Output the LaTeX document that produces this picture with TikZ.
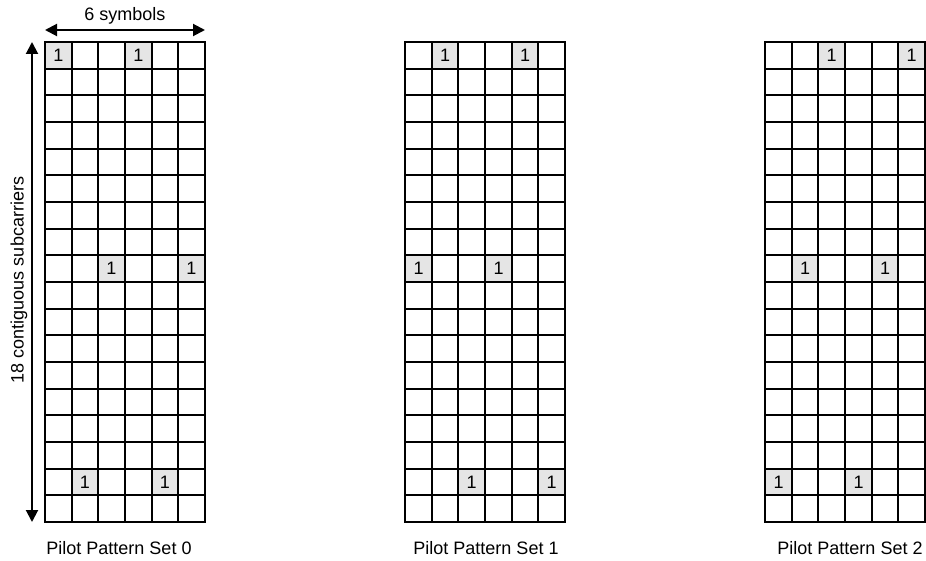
\documentclass[tikz,border=0pt]{standalone}
\usepackage{fontspec}
\setmainfont{Liberation Sans}
\usetikzlibrary{arrows.meta}
\begin{document}
\begin{tikzpicture}[x=1pt,y=-1pt,
  cell/.style={draw, line width=2pt, inner sep=0pt, outer sep=0pt, anchor=north west,
    font=\fontsize{18}{20}\selectfont},
  pilot/.style={cell, fill=gray!20},
  lbl/.style={font=\fontsize{18}{20}\selectfont, inner sep=0pt},
  dimarrow/.style={line width=2pt, {Triangle[length=12pt,width=12pt]}-{Triangle[length=12pt,width=12pt]}}]
\useasboundingbox (0,0) rectangle (926,561);
\foreach \g/\x/\lx in {0/45/119,1/405/486,2/765/850}{
  \foreach \r in {0,...,17}{
    \foreach \c in {0,...,5}{
      \pgfmathtruncatemacro\ispilot{(mod(\r,8)==0) && (mod(\c-\g-\r/4+30,3)==0)}
      \pgfmathtruncatemacro\cxa{round(\x+\c*26.67)}
      \pgfmathtruncatemacro\cxb{round(\x+(\c+1)*26.67)}
      \pgfmathtruncatemacro\cya{round(42+\r*26.67)}
      \pgfmathtruncatemacro\cyb{round(42+(\r+1)*26.67)}
      \pgfmathtruncatemacro\cellw{\cxb-\cxa}
      \pgfmathtruncatemacro\cellh{\cyb-\cya}
      \ifnum\ispilot=1
        \node[pilot, minimum width=\cellw pt, minimum height=\cellh pt] (g\g-\r-\c) at (\cxa, \cya) {1};
      \else
        \node[cell, minimum width=\cellw pt, minimum height=\cellh pt] (g\g-\r-\c) at (\cxa, \cya) {};
      \fi
    }
  }
  \node[lbl] (set\g) at (\lx, 548) {Pilot Pattern Set \g};
}
\coordinate (hl) at ([yshift=12pt]g0-0-0.north west);
\coordinate (hr) at ([yshift=12pt]g0-0-5.north east);
\draw[dimarrow] (hl) -- (hr);
\node[lbl] (sym) at (125, 16) {6 symbols};
\coordinate (vt) at ([xshift=-13pt]g0-0-0.north west);
\coordinate (vb) at ([xshift=-13pt]g0-17-0.south west);
\draw[dimarrow] (vt) -- (vb);
\node[lbl, rotate=90] (sub) at (19, 280) {18 contiguous subcarriers};
\end{tikzpicture}
\end{document}
